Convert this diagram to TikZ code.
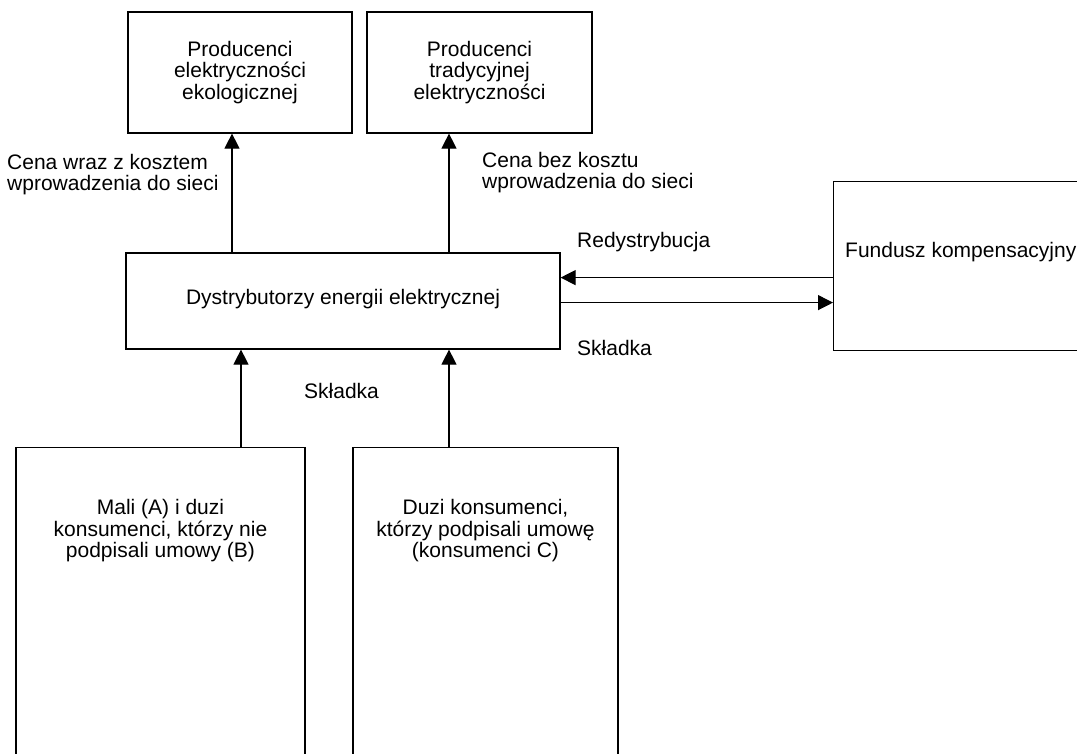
\documentclass[tikz,border=0pt]{standalone}
\usepackage{fontspec}
\setmainfont{Liberation Sans}
\usetikzlibrary{arrows.meta}
\begin{document}
\begin{tikzpicture}[x=1pt,y=-1pt,
  box/.style={draw=black, line width=1.2pt, inner sep=0pt, align=center,
    font=\fontsize{21}{21.5}\selectfont},
  txt/.style={inner sep=0pt, font=\fontsize{21}{21.5}\selectfont},
  arr/.style={line width=1.2pt, -{Triangle[length=15pt,width=15pt]}}]
\useasboundingbox (0,0) rectangle (1077,753);
\clip (0,0) rectangle (1077,753);
\fill[white] (0,0) rectangle (1077,753);
% boxes
\node[box, minimum width=224pt, minimum height=121pt] (eco) at (240,72.5)
  {Producenci\\elektryczności\\ekologicznej};
\node[box, minimum width=225pt, minimum height=121pt] (trad) at (479.5,72.5)
  {Producenci\\tradycyjnej\\elektryczności};
\node[box, minimum width=434pt, minimum height=96pt, text height=15pt, text depth=8pt] (dist) at (343,301)
  {Dystrybutorzy energii elektrycznej};
\node[box, anchor=north west, minimum width=300pt, minimum height=169pt] (fund) at (833,181) {};
\node[txt, anchor=base west] (fundtext) at (845,257) {Fundusz kompensacyjny};
\node[box, anchor=north, minimum width=289pt, minimum height=340pt] (small) at (160.5,447) {};
\node[txt, align=center] (smalltext) at (160.5,531)
  {Mali (A) i duzi\\konsumenci, którzy nie\\podpisali umowy (B)};
\node[box, anchor=north, minimum width=265pt, minimum height=340pt] (big) at (485.5,447) {};
\node[txt, align=center] (bigtext) at (485.5,531)
  {Duzi konsumenci,\\którzy podpisali umowę\\(konsumenci C)};
% connectors
\draw[arr] ([xshift=-8pt]dist.north -| eco.south) -- ([xshift=-8pt]eco.south);
\draw[arr] ([xshift=-30.5pt]dist.north -| trad.south) -- ([xshift=-30.5pt]trad.south);
\draw[arr] ([xshift=80.5pt]small.north) -- ([xshift=80.5pt]small.north |- dist.south);
\draw[arr] ([xshift=-36.5pt]big.north) -- ([xshift=-36.5pt]big.north |- dist.south);
\draw[arr] ([yshift=-11.5pt]fund.west) -- ([yshift=-11.5pt]fund.west -| dist.east);
\draw[arr] ([yshift=-36.5pt]fund.west -| dist.east) -- ([yshift=-36.5pt]fund.west);
% labels
\node[txt, align=left, anchor=north west] (l1) at (7,154)
  {Cena wraz z kosztem\\wprowadzenia do sieci};
\node[txt, align=left, anchor=north west] (l2) at (482,152)
  {Cena bez kosztu\\wprowadzenia do sieci};
\node[txt, anchor=base west] (l3) at (577,247) {Redystrybucja};
\node[txt, anchor=base west] (l4) at (577,355) {Składka};
\node[txt, anchor=base west] (l5) at (304,398) {Składka};
\end{tikzpicture}
\end{document}
